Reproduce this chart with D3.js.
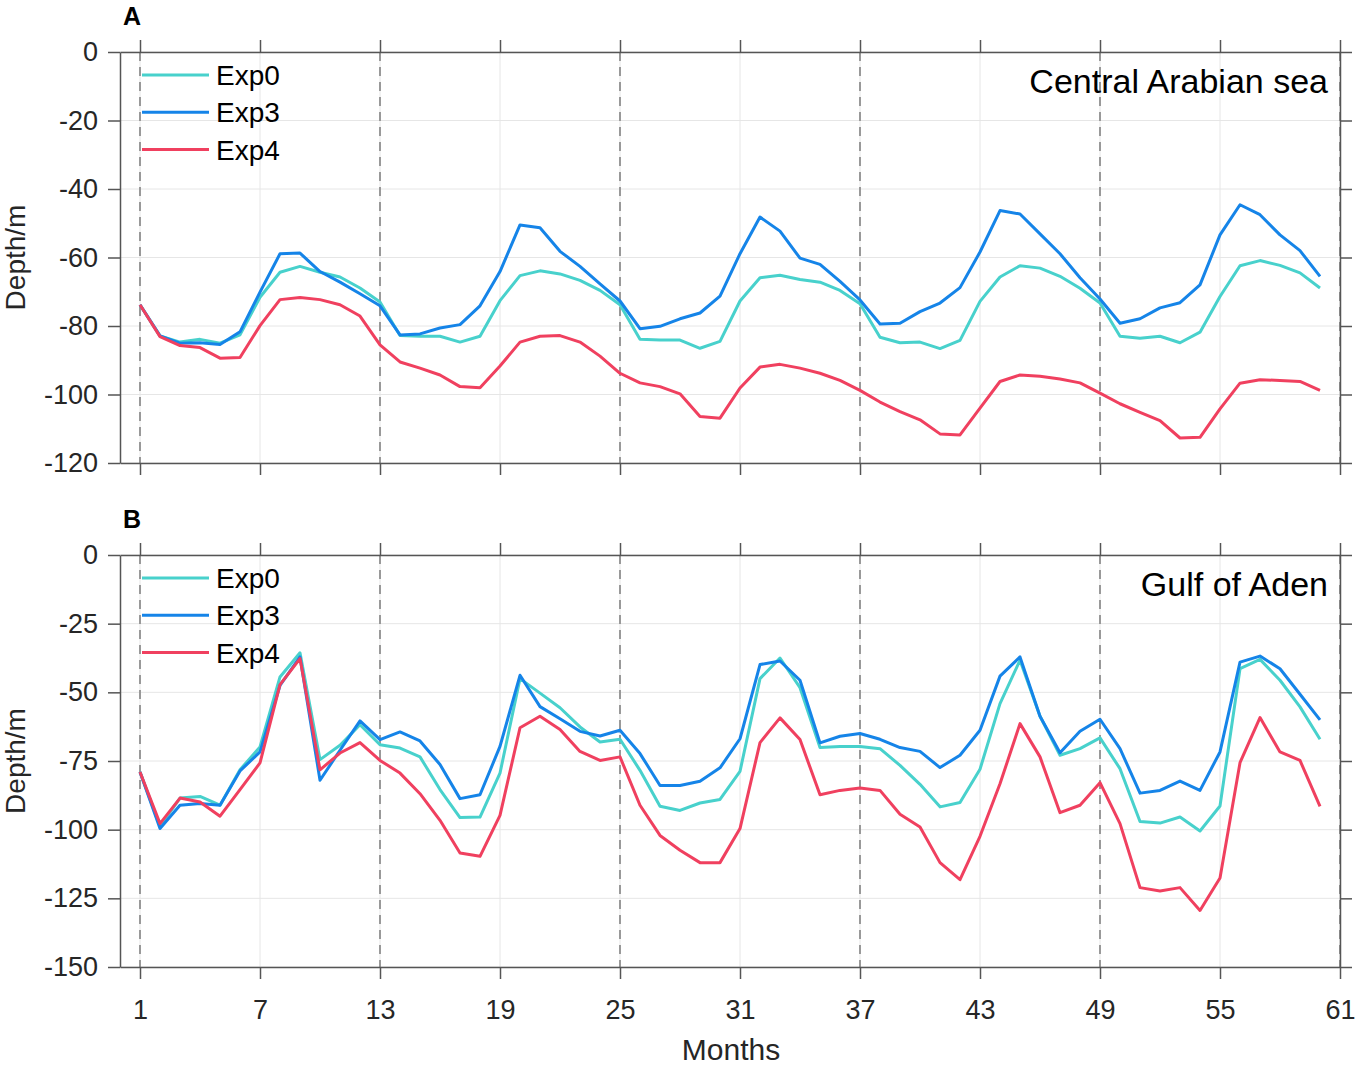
<!DOCTYPE html>
<html>
<head>
<meta charset="utf-8">
<script src="https://cdn.jsdelivr.net/npm/d3@7"></script>
<style>
    body { margin: 0; background: #fff; }
    text { font-family: "Liberation Sans", Arial, Helvetica, sans-serif; }
</style>
</head>
<body>
<div class="chart"></div>
<script>
// Month index along the x axis, tick labels and the yearly dashed markers
var months = d3.range(1, 61);
var xTicks = [1, 7, 13, 19, 25, 31, 37, 43, 49, 55, 61];
var yearMarks = [1, 13, 25, 37, 49, 61];

var seriesNames = ['Exp0', 'Exp3', 'Exp4'];
var seriesColors = ['#48d1cc', '#1584e8', '#f0405f'];

// Panel A: Central Arabian sea
var arabExp0 = [-73.8, -82.9, -84.7, -83.9, -85.0, -82.6, -71.6, -64.3, -62.6, -64.3,
    -65.7, -68.9, -73.0, -82.8, -83.0, -83.0, -84.7, -83.0, -72.6, -65.3,
    -63.9, -64.8, -66.7, -69.6, -73.8, -83.9, -84.1, -84.1, -86.5, -84.5,
    -72.7, -65.9, -65.2, -66.4, -67.2, -69.6, -73.5, -83.3, -84.9, -84.7,
    -86.6, -84.2, -72.8, -65.7, -62.4, -63.1, -65.5, -69.0, -73.3, -83.0,
    -83.6, -83.0, -84.9, -81.8, -71.4, -62.4, -60.9, -62.3, -64.5, -68.9];
var arabExp3 = [-73.8, -82.9, -85.0, -84.9, -85.4, -81.7, -70.1, -58.9, -58.7, -64.1,
    -67.2, -70.6, -74.1, -82.6, -82.3, -80.6, -79.6, -74.1, -64.1, -50.5,
    -51.3, -58.2, -62.6, -67.7, -72.7, -80.8, -80.1, -77.9, -76.2, -71.3,
    -58.9, -48.2, -52.3, -60.2, -62.0, -67.0, -72.4, -79.4, -79.2, -75.8,
    -73.3, -68.8, -58.4, -46.3, -47.3, -53.1, -58.9, -65.9, -72.1, -79.2,
    -77.9, -74.7, -73.2, -68.0, -53.4, -44.6, -47.5, -53.4, -58.0, -65.5];
var arabExp4 = [-73.8, -83.1, -85.7, -86.3, -89.4, -89.2, -79.9, -72.3, -71.7, -72.3,
    -73.8, -77.1, -85.5, -90.5, -92.3, -94.3, -97.7, -98.0, -91.7, -84.7,
    -83.0, -82.8, -84.7, -88.8, -93.8, -96.6, -97.7, -99.8, -106.4, -106.9,
    -98.1, -92.0, -91.2, -92.3, -93.8, -95.9, -98.8, -102.2, -105.0, -107.4,
    -111.5, -111.8, -104.0, -96.2, -94.3, -94.7, -95.5, -96.6, -99.6, -102.7,
    -105.2, -107.6, -112.7, -112.5, -104.2, -96.7, -95.7, -95.9, -96.2, -98.8];
var arabTicks = [0, -20, -40, -60, -80, -100, -120];

// Panel B: Gulf of Aden
var adenExp0 = [-79.0, -98.8, -88.5, -87.9, -91.1, -78.2, -69.9, -44.4, -35.6, -74.5,
    -69.3, -61.8, -69.1, -70.3, -73.5, -85.4, -95.6, -95.4, -79.4, -45.0,
    -50.3, -55.6, -62.6, -68.1, -67.1, -78.4, -91.5, -93.0, -90.3, -89.0,
    -78.8, -45.0, -37.5, -48.3, -70.1, -69.7, -69.7, -70.5, -76.6, -83.5,
    -91.7, -90.1, -78.0, -54.1, -38.3, -58.7, -72.9, -70.5, -66.6, -77.8,
    -97.0, -97.6, -95.4, -100.5, -91.4, -41.4, -38.0, -45.6, -55.3, -67.1];
var adenExp3 = [-79.0, -99.6, -91.1, -90.5, -91.1, -78.6, -71.7, -47.5, -37.1, -82.0,
    -71.1, -60.4, -67.2, -64.4, -67.7, -76.3, -88.7, -87.3, -69.7, -43.8,
    -55.2, -59.6, -64.2, -65.9, -63.8, -72.3, -83.9, -83.9, -82.4, -77.5,
    -66.9, -39.9, -38.6, -45.6, -68.4, -66.0, -65.0, -67.1, -70.1, -71.5,
    -77.4, -72.9, -63.8, -44.1, -37.1, -58.7, -72.0, -64.2, -59.8, -70.5,
    -86.7, -85.7, -82.3, -85.7, -71.7, -39.0, -36.8, -41.4, -50.7, -60.0];
var adenExp4 = [-79.0, -97.8, -88.5, -89.9, -95.1, -85.4, -75.7, -47.2, -37.7, -78.2,
    -72.1, -68.3, -74.8, -79.4, -86.9, -96.6, -108.5, -109.7, -94.8, -62.9,
    -58.7, -63.5, -71.5, -74.8, -73.5, -91.1, -102.1, -107.5, -112.0, -112.0,
    -99.6, -68.3, -59.3, -67.2, -87.3, -85.7, -84.8, -85.7, -94.4, -99.0,
    -112.0, -118.2, -102.4, -83.3, -61.4, -73.5, -93.8, -91.1, -82.9, -97.8,
    -121.1, -122.3, -121.1, -129.4, -117.6, -75.6, -59.2, -71.7, -74.8, -91.5];
var adenTicks = [0, -25, -50, -75, -100, -125, -150];

var width = 1359, height = 1068;
var plotLeft = 120, plotRight = 1340;
var tickLen = 12;
var axisColor = '#555', labelColor = '#262626';

var svg = d3.select('.chart').append('svg')
    .attr('width', width)
    .attr('height', height);

var x = d3.scaleLinear()
    .domain([0, 61])
    .range([plotLeft, plotRight]);

// plain hyphen, like the original figure
var plainNum = d => String(d);

function drawPanel(cfg) {
    var y = d3.scaleLinear()
        .domain([cfg.ticks[cfg.ticks.length - 1], 0])
        .range([cfg.bottom, cfg.top]);

    var g = svg.append('g').attr('class', 'panel');

    // grid
    g.append('g').selectAll('line')
        .data(xTicks).enter().append('line')
        .attr('x1', d => x(d)).attr('x2', d => x(d))
        .attr('y1', cfg.top).attr('y2', cfg.bottom)
        .attr('stroke', '#e6e6e6').attr('stroke-width', 1);
    g.append('g').selectAll('line')
        .data(cfg.ticks).enter().append('line')
        .attr('x1', plotLeft).attr('x2', plotRight)
        .attr('y1', d => y(d)).attr('y2', d => y(d))
        .attr('stroke', '#e6e6e6').attr('stroke-width', 1);

    // yearly markers
    g.append('g').selectAll('line')
        .data(yearMarks).enter().append('line')
        .attr('x1', d => x(d)).attr('x2', d => x(d))
        .attr('y1', cfg.top).attr('y2', cfg.bottom)
        .attr('stroke', '#999').attr('stroke-width', 2)
        .attr('stroke-dasharray', '9,6');

    // axes, ticks outward on all four sides
    var bottomAxis = d3.axisBottom(x).tickValues(xTicks).tickFormat(plainNum).tickSizeOuter(0).tickSizeInner(tickLen).tickPadding(10);
    var topAxis = d3.axisTop(x).tickValues(xTicks).tickSizeOuter(0).tickSizeInner(tickLen).tickFormat('');
    var leftAxis = d3.axisLeft(y).tickValues(cfg.ticks).tickFormat(plainNum).tickSizeOuter(0).tickSizeInner(tickLen).tickPadding(10);
    var rightAxis = d3.axisRight(y).tickValues(cfg.ticks).tickSizeOuter(0).tickSizeInner(tickLen).tickFormat('');

    var axes = [
        g.append('g').attr('transform', 'translate(0,' + cfg.bottom + ')').call(bottomAxis),
        g.append('g').attr('transform', 'translate(0,' + cfg.top + ')').call(topAxis),
        g.append('g').attr('transform', 'translate(' + plotLeft + ',0)').call(leftAxis),
        g.append('g').attr('transform', 'translate(' + plotRight + ',0)').call(rightAxis)
    ];
    axes.forEach(function(a) {
        a.select('.domain').attr('stroke', axisColor).attr('stroke-width', 1.5);
        a.selectAll('.tick line').attr('stroke', axisColor).attr('stroke-width', 1.5);
        a.selectAll('.tick text')
            .attr('fill', labelColor)
            .style('font-size', '27px')
            .style('font-family', '"Liberation Sans", Arial, sans-serif');
    });
    if (!cfg.showXLabels) axes[0].selectAll('.tick text').remove();
    axes[0].selectAll('.tick text').attr('dy', '1.1em');

    // series
    var line = d3.line()
        .x((d, i) => x(months[i]))
        .y(d => y(d));

    cfg.series.forEach(function(s, i) {
        g.append('path')
            .datum(s)
            .attr('d', line)
            .attr('fill', 'none')
            .attr('stroke', seriesColors[i])
            .attr('stroke-width', 3)
            .attr('stroke-linejoin', 'round');
    });

    // legend
    var legend = g.append('g')
        .attr('transform', 'translate(142,' + (cfg.top + 23) + ')');
    seriesNames.forEach(function(name, i) {
        legend.append('line')
            .attr('x1', 0).attr('x2', 67)
            .attr('y1', i * 37.3).attr('y2', i * 37.3)
            .attr('stroke', seriesColors[i]).attr('stroke-width', 3);
        legend.append('text')
            .attr('x', 74).attr('y', i * 37.3)
            .attr('dy', '0.36em')
            .style('font-size', '28px')
            .attr('fill', '#000')
            .text(name);
    });

    // region name
    g.append('text')
        .attr('x', 1328).attr('y', cfg.top + 41)
        .attr('text-anchor', 'end')
        .style('font-size', '34px')
        .attr('fill', '#000')
        .text(cfg.region);

    // panel letter
    g.append('text')
        .attr('x', 123).attr('y', cfg.top - 27)
        .style('font-size', '25px')
        .style('font-weight', 'bold')
        .attr('fill', '#000')
        .text(cfg.letter);

    // y label
    g.append('text')
        .attr('transform', 'translate(25,' + ((cfg.top + cfg.bottom) / 2) + ')rotate(-90)')
        .attr('text-anchor', 'middle')
        .style('font-size', '28px')
        .attr('fill', labelColor)
        .text('Depth/m');
}

drawPanel({
    top: 52, bottom: 463,
    ticks: arabTicks,
    series: [arabExp0, arabExp3, arabExp4],
    letter: 'A',
    region: 'Central Arabian sea',
    showXLabels: false
});

drawPanel({
    top: 555, bottom: 967,
    ticks: adenTicks,
    series: [adenExp0, adenExp3, adenExp4],
    letter: 'B',
    region: 'Gulf of Aden',
    showXLabels: true
});

svg.append('text')
    .attr('x', x(31) - 9).attr('y', 1060)
    .attr('text-anchor', 'middle')
    .style('font-size', '30px')
    .attr('fill', labelColor)
    .text('Months');
</script>
</body>
</html>
